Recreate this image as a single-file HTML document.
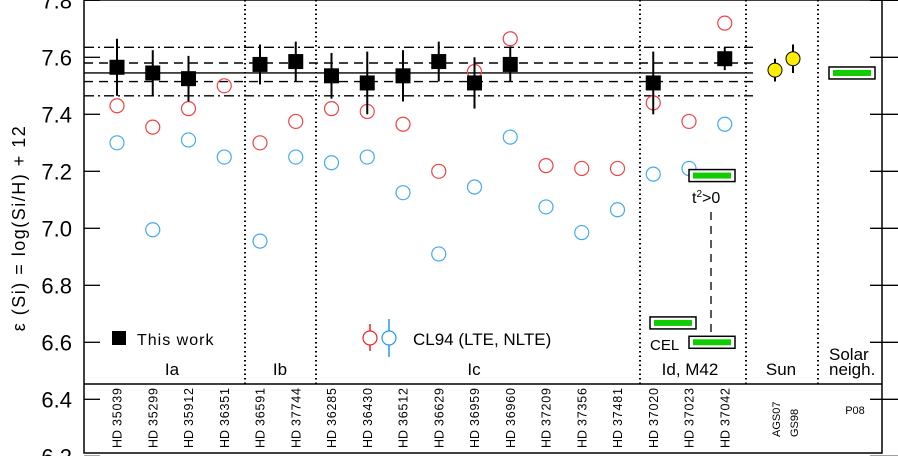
<!DOCTYPE html>
<html><head><meta charset="utf-8"><style>
body{margin:0;background:#fff}
svg{display:block;font-family:"Liberation Sans",sans-serif}
</style></head><body>
<svg id="c" width="898" height="456" viewBox="0 0 898 456"></svg>
<script>
const stars=["35039","35299","35912","36351","36591","37744","36285","36430","36512","36629","36959","36960","37209","37356","37481","37020","37023","37042"];
const thisWork=[7.565,7.545,7.525,null,7.575,7.585,7.535,7.51,7.535,7.585,7.51,7.575,null,null,null,7.51,null,7.595];
const thisErr=[0.1,0.08,0.08,null,0.07,0.07,0.08,0.11,0.09,0.07,0.09,0.06,null,null,null,0.11,null,0.04];
const lte=[7.43,7.355,7.42,7.50,7.30,7.375,7.42,7.41,7.365,7.20,7.55,7.665,7.22,7.21,7.21,7.44,7.375,7.72];
const nlte=[7.30,6.995,7.31,7.25,6.955,7.25,7.23,7.25,7.125,6.91,7.145,7.32,7.075,6.985,7.065,7.19,7.21,7.365];
const sunVals=[7.555,7.595];
const sunErr=[0.04,0.05];
const sunRefs=["AGS07","GS98"];
const refLines=[7.545,7.58,7.515,7.635,7.465];
const yTicks=[6.2,6.4,6.6,6.8,7.0,7.2,7.4,7.6,7.8];
const m42Bars=[7.185,6.668,6.60];
const solarNeigh=7.545;

const S=document.getElementById('c');const NS="http://www.w3.org/2000/svg";
function el(t,a,p){const e=document.createElementNS(NS,t);for(const k in a)e.setAttribute(k,a[k]);(p||S).appendChild(e);return e;}
const y=v=>57.3+(7.6-v)*285;
const x=i=>117+i*35.75;

let e;
e=el('rect',{x:84,y:0,width:798,height:453,fill:'none',stroke:'#000','stroke-width':1.5});

e=el('line',{x1:84,y1:384,x2:882,y2:384,stroke:'#000','stroke-width':1.5});

yTicks.forEach(v=>{
 el('line',{x1:84,y1:y(v),x2:100,y2:y(v),stroke:'#000','stroke-width':1.3});
 el('line',{x1:870,y1:y(v),x2:898,y2:y(v),stroke:'#000','stroke-width':1.3});
 e=el('text',{x:72,y:y(v)+8,'font-size':22,'text-anchor':'end',fill:'#000'});e.textContent=v.toFixed(1);
 
});
e=el('text',{transform:'translate(25,228) rotate(-90)','font-size':18,'text-anchor':'middle','letter-spacing':'1.5'});
e.setAttribute('xml:space','preserve');
e.textContent='ε (Si)  =  log(Si/H)  +  12';


[245,316,640,746,818].forEach(xx=>{e=el('line',{x1:xx,y1:0,x2:xx,y2:384,stroke:'#000','stroke-width':2,'stroke-dasharray':'1.5,3'});
 });

const dash=['', '9,6','9,6','10,4,2,4','10,4,2,4'];
refLines.forEach((v,i)=>{e=el('line',{x1:84,y1:y(v),x2:753,y2:y(v),stroke:'#000','stroke-width':1.4,'stroke-dasharray':dash[i]});
 });

lte.forEach((v,i)=>{e=el('circle',{cx:x(i),cy:y(v),r:7,fill:'none',stroke:'#ee4444','stroke-width':1.2});
 });
nlte.forEach((v,i)=>{e=el('circle',{cx:x(i),cy:y(v),r:7,fill:'none',stroke:'#44aaee','stroke-width':1.2});
 });

thisWork.forEach((v,i)=>{if(v==null)return;
 el('line',{x1:x(i),y1:y(v-thisErr[i]),x2:x(i),y2:y(v+thisErr[i]),stroke:'#000','stroke-width':2});
 e=el('rect',{x:x(i)-7.5,y:y(v)-7.5,width:15,height:15,fill:'#000'});
 });

sunVals.forEach((v,i)=>{const xx=775+i*18;
 el('line',{x1:xx,y1:y(v-sunErr[i]),x2:xx,y2:y(v+sunErr[i]),stroke:'#000','stroke-width':2});
 e=el('circle',{cx:xx,cy:y(v),r:7,fill:'#ffee00',stroke:'#000','stroke-width':1});
 
 e=el('text',{transform:`translate(${xx+5},437) rotate(-90)`,'font-size':11});e.textContent=sunRefs[i];
 
});

function bar(cx,v,name){const g=el('g',{});
 el('rect',{x:cx-23,y:y(v)-6,width:46,height:12,fill:'#fff',stroke:'#000','stroke-width':1.5},g);
 el('rect',{x:cx-19,y:y(v)-3,width:38,height:6,fill:'#11cc00'},g);}
bar(712,m42Bars[0],'m42-t2-bar');bar(673,m42Bars[1],'m42-cel-bar');bar(712,m42Bars[2],'m42-cel-bar-2');
bar(852,solarNeigh,'solar-neighbourhood-bar');
e=el('line',{x1:711,y1:212,x2:711,y2:y(m42Bars[2])-8,stroke:'#000','stroke-width':1.3,'stroke-dasharray':'8,6'});

e=el('text',{x:692,y:203,'font-size':16});e.innerHTML='t<tspan font-size="10" dy="-6">2</tspan><tspan dy="6">&gt;0</tspan>';

e=el('text',{x:650,y:350,'font-size':15});e.textContent='CEL';


e=el('rect',{x:112,y:331,width:14,height:14,fill:'#000'});
e=el('text',{x:137,y:345,'font-size':16,'letter-spacing':'1'});e.textContent='This work';
el('line',{x1:370,y1:324,x2:370,y2:351,stroke:'#ee2222','stroke-width':1.5});
el('circle',{cx:370,cy:338,r:7,fill:'#fff',stroke:'#ee2222','stroke-width':1.2});
el('line',{x1:389,y1:319,x2:389,y2:357,stroke:'#2299ee','stroke-width':1.5});
el('circle',{cx:389,cy:338,r:7,fill:'#fff',stroke:'#2299ee','stroke-width':1.2});
e=el('text',{x:413,y:345,'font-size':17});e.textContent='CL94 (LTE, NLTE)';

[['Ia',172],['Ib',280],['Ic',474],['Id, M42',690],['Sun',781]].forEach(([t,xx])=>{
 e=el('text',{x:xx,y:375,'font-size':17,'text-anchor':'middle'});e.textContent=t;
 });
e=el('text',{x:829,y:360,'font-size':17});e.textContent='Solar';
e=el('text',{x:829,y:375,'font-size':17});e.textContent='neigh.';

stars.forEach((s,i)=>{
 e=el('text',{transform:`translate(${x(i)+4.5},448) rotate(-90)`,'font-size':12.5});e.textContent='HD';
 
 e=el('text',{transform:`translate(${x(i)+4.5},426) rotate(-90)`,'font-size':12.5,'letter-spacing':'0.8'});e.textContent=s;
 });
e=el('text',{x:855,y:414,'font-size':11,'text-anchor':'middle'});e.textContent='P08';

</script>
</body></html>
